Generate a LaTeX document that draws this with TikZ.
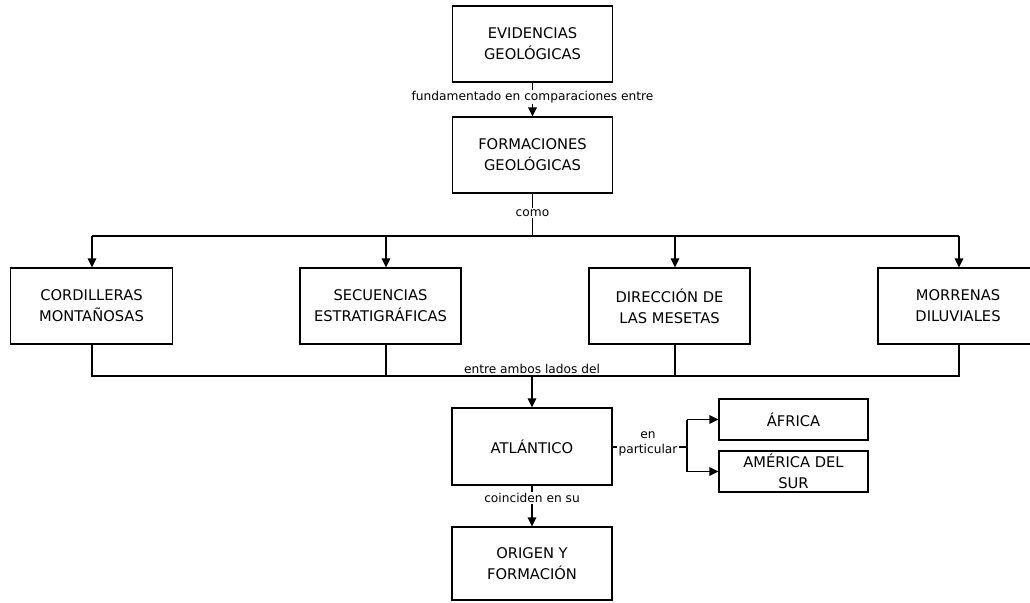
\documentclass[tikz,border=0pt]{standalone}
\usepackage{fontspec}
\setmainfont{DejaVu Sans}
\usetikzlibrary{arrows.meta}
\tikzset{
  box/.style={draw, line width=1.1pt, minimum width=160pt, minimum height=76pt, align=center, inner sep=2pt,
    font=\fontsize{14.7pt}{21pt}\selectfont},
  smallbox/.style={box, minimum width=149pt, minimum height=41pt},
  lbl/.style={fill=white, inner sep=1.5pt, align=center, font=\fontsize{12.2pt}{15pt}\selectfont},
  conn/.style={line width=1.2pt},
  arr/.style={conn, -{Triangle[length=9pt,width=8.5pt]}}
}
\begin{document}
\begin{tikzpicture}[x=1pt,y=-1pt]
\clip (0,0) rectangle (1030,602);
\fill[white] (0,0) rectangle (1030,602);

\node[box] (ev) at (532.5,44) {EVIDENCIAS\\GEOLÓGICAS};
\node[box] (fo) at (532.5,155) {FORMACIONES\\GEOLÓGICAS};

\node[box, minimum width=162pt] (co) at (91.5,306) {CORDILLERAS\\MONTAÑOSAS};
\node[box, minimum width=161pt] (se) at (380.5,306) {SECUENCIAS\\ESTRATIGRÁFICAS};
\node[box, minimum width=161pt] (di) at (669.5,306) {DIRECCIÓN DE\\LAS MESETAS};
\node[box] (mo) at (958,306) {MORRENAS\\DILUVIALES};

\node[box, minimum height=77pt] (at) at (532,446.5) {ATLÁNTICO};
\node[box, minimum height=73pt] (or) at (532,563.5) {ORIGEN Y\\FORMACIÓN};

\node[smallbox] (af) at (793.5,419.5) {ÁFRICA};
\node[smallbox] (am) at (793.5,471.5) {AMÉRICA DEL\\SUR};

% top chain
\draw[arr] (ev.south) -- (fo.north);
\node[lbl] (l1) at (532.5,97) {fundamentado en comparaciones entre};

% distribution line
\coordinate (h0) at (532.5,236);
\coordinate (h1) at (92,236);
\coordinate (h2) at (386,236);
\coordinate (h3) at (675,236);
\coordinate (h4) at (959,236);
\draw[conn] (fo.south) -- (h0);
\node[lbl] (l2) at (532.5,213) {como};
\draw[conn] (h1) -- (h4);
\draw[arr] (h1) -- (h1 |- co.north);
\draw[arr] (h2) -- (h2 |- se.north);
\draw[arr] (h3) -- (h3 |- di.north);
\draw[arr] (h4) -- (h4 |- mo.north);

% collecting line
\coordinate (b1) at (92,376);
\coordinate (b2) at (386,376);
\coordinate (b3) at (675,376);
\coordinate (b4) at (959,376);
\coordinate (b0) at (532,376);
\draw[conn] (b1 |- co.south) -- (b1) -- (b4) -- (b4 |- mo.south);
\draw[conn] (b2 |- se.south) -- (b2);
\draw[conn] (b3 |- di.south) -- (b3);
\node[lbl, fill=none, anchor=south, inner sep=2pt] (l3) at (532,376) {entre ambos lados del};
\draw[arr] (b0) -- (at.north);

% bottom
\draw[arr] (at.south) -- (or.north);
\node[lbl] (l4) at (532,498) {coinciden en su};

% en particular
\coordinate (k0) at (687,447);
\draw[conn] (at.east |- k0) -- (k0);
\node[lbl] (l5) at (648,444) {en\\particular};
\draw[conn] (k0) -- (k0 |- af.west);
\draw[conn] (k0) -- (k0 |- am.west);
\draw[arr] (k0 |- af.west) -- (af.west);
\draw[arr] (k0 |- am.west) -- (am.west);
\end{tikzpicture}
\end{document}
